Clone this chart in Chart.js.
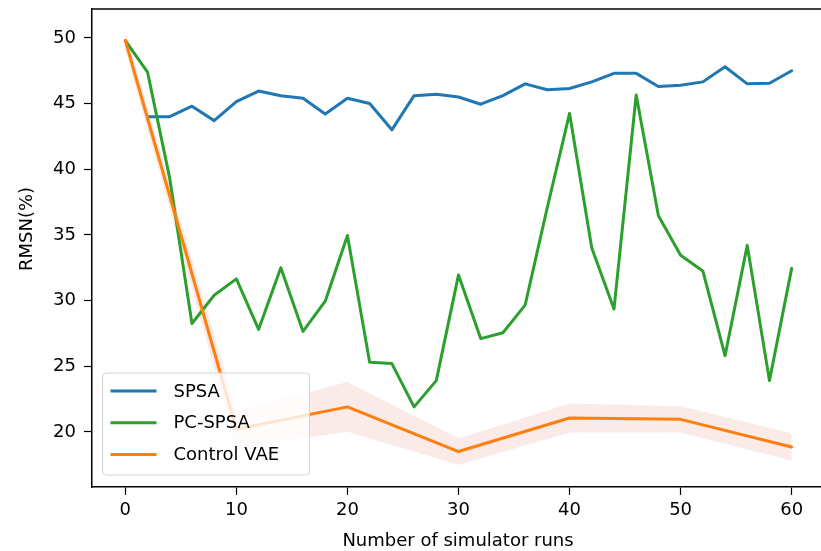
<!DOCTYPE html>
<html>
<head>
<meta charset="utf-8">
<script src="https://cdn.jsdelivr.net/npm/chart.js@4/dist/chart.umd.min.js"></script>
<style>
    html, body {
        margin: 0;
        padding: 0;
        background: #fff;
        overflow: hidden;
    }
    canvas {
        display: block;
    }
</style>
</head>
<body>
<canvas id="rmsnChart" width="830" height="551"></canvas>
<script>
    /*
    |--------------------------------------------------------------------------
    | Data
    |--------------------------------------------------------------------------
    */

    const spsaRuns = [2, 4, 6, 8, 10, 12, 14, 16, 18, 20, 22, 24, 26, 28, 30,
        32, 34, 36, 38, 40, 42, 44, 46, 48, 50, 52, 54, 56, 58, 60];
    const spsaRmsn = [44.0, 44.0, 44.8, 43.7, 45.15, 45.95, 45.6, 45.4, 44.2, 45.4,
        45.0, 43.0, 45.6, 45.7, 45.5, 44.95, 45.6, 46.5, 46.05, 46.15,
        46.65, 47.3, 47.3, 46.3, 46.4, 46.65, 47.8, 46.5, 46.55, 47.5];

    const pcRuns = [0, 2, 4, 6, 8, 10, 12, 14, 16, 18, 20, 22, 24, 26, 28, 30,
        32, 34, 36, 38, 40, 42, 44, 46, 48, 50, 52, 54, 56, 58, 60];
    const pcRmsn = [49.8, 47.4, 39.3, 28.25, 30.4, 31.65, 27.8, 32.5, 27.65, 29.95,
        34.95, 25.3, 25.2, 21.9, 23.9, 31.95, 27.1, 27.55, 29.65, 37.1,
        44.25, 34.0, 29.35, 45.65, 36.45, 33.45, 32.25, 25.8, 34.2, 23.9, 32.45];

    const vaeRuns = [0, 10, 20, 30, 40, 50, 60];
    const vaeRmsn = [49.8, 20.2, 21.9, 18.5, 21.05, 20.95, 18.85];
    const vaeStd = [0.7, 1.4, 1.9, 1.0, 1.1, 1.0, 1.05];

    const xTickValues = [0, 10, 20, 30, 40, 50, 60];
    const yTickValues = [20, 25, 30, 35, 40, 45, 50];

    const COLORS = {
        blue: "#1f77b4",
        green: "#2ca02c",
        orange: "#ff7f0e",
        band: "rgba(230, 150, 140, 0.2)",
    };

    const FONT = "DejaVu Sans";

    const toPoints = (xs, ys) => xs.map((x, i) => ({ x: x, y: ys[i] }));

    const noPadding = (scale) => {
        scale.paddingTop = 0;
        scale.paddingBottom = 0;
        scale.paddingLeft = 0;
        scale.paddingRight = 0;
    };

    /*
    |--------------------------------------------------------------------------
    | Plugins: top spine, axis titles, legend box
    |--------------------------------------------------------------------------
    */

    const framePlugin = {
        id: "frame",
        afterDatasetsDraw(chart) {
            const { ctx, chartArea } = chart;
            ctx.save();
            ctx.strokeStyle = "#000";
            ctx.lineWidth = 1.5;
            ctx.beginPath();
            ctx.moveTo(chartArea.left, chartArea.top);
            ctx.lineTo(chartArea.right, chartArea.top);
            ctx.stroke();

            // axis titles
            ctx.fillStyle = "#000";
            ctx.font = "18px '" + FONT + "'";
            ctx.textAlign = "center";
            ctx.textBaseline = "middle";
            ctx.fillText("Number of simulator runs", 458, 541);

            ctx.translate(27, 229);
            ctx.rotate(-Math.PI / 2);
            ctx.fillText("RMSN(%)", 0, 0);
            ctx.restore();
        },
    };

    const legendPlugin = {
        id: "boxLegend",
        afterDatasetsDraw(chart) {
            const { ctx, chartArea } = chart;
            const items = [
                { label: "SPSA", color: COLORS.blue },
                { label: "PC-SPSA", color: COLORS.green },
                { label: "Control VAE", color: COLORS.orange },
            ];

            const x = chartArea.left + 10.5;
            const y = chartArea.bottom - 114;
            const w = 207;
            const h = 102;

            ctx.save();
            ctx.beginPath();
            ctx.roundRect(x, y, w, h, 4);
            ctx.fillStyle = "rgba(255, 255, 255, 0.8)";
            ctx.fill();
            ctx.strokeStyle = "#d4d4d4";
            ctx.lineWidth = 1;
            ctx.stroke();

            ctx.font = "18px '" + FONT + "'";
            ctx.textBaseline = "middle";
            ctx.textAlign = "left";

            items.forEach((item, i) => {
                const rowY = y + 18 + i * 31.8;
                ctx.strokeStyle = item.color;
                ctx.lineWidth = 3;
                ctx.beginPath();
                ctx.moveTo(x + 8, rowY);
                ctx.lineTo(x + 54, rowY);
                ctx.stroke();

                ctx.fillStyle = "#000";
                ctx.fillText(item.label, x + 71, rowY + 1);
            });
            ctx.restore();
        },
    };

    /*
    |--------------------------------------------------------------------------
    | Chart
    |--------------------------------------------------------------------------
    */

    const ctx = document.getElementById("rmsnChart");

    new Chart(ctx, {
        type: "line",

        data: {
            datasets: [
                {
                    label: "SPSA",
                    data: toPoints(spsaRuns, spsaRmsn),
                    borderColor: COLORS.blue,
                    borderWidth: 3,
                    order: 3,
                },

                {
                    label: "PC-SPSA",
                    data: toPoints(pcRuns, pcRmsn),
                    borderColor: COLORS.green,
                    borderWidth: 3,
                    order: 2,
                },

                {
                    label: "Control VAE",
                    data: toPoints(vaeRuns, vaeRmsn),
                    borderColor: COLORS.orange,
                    borderWidth: 3,
                    order: 1,
                },

                {
                    label: "upper",
                    data: toPoints(vaeRuns, vaeRmsn.map((v, i) => v + vaeStd[i])),
                    borderWidth: 0,
                    borderColor: "rgba(0,0,0,0)",
                    backgroundColor: COLORS.band,
                    fill: "+1",
                    order: 5,
                },

                {
                    label: "lower",
                    data: toPoints(vaeRuns, vaeRmsn.map((v, i) => v - vaeStd[i])),
                    borderWidth: 0,
                    borderColor: "rgba(0,0,0,0)",
                    fill: false,
                    order: 6,
                },
            ],
        },

        options: {
            responsive: false,
            animation: false,

            elements: {
                point: { radius: 0 },
                line: { tension: 0, borderCapStyle: "round", borderJoinStyle: "round" },
            },

            layout: {
                padding: { top: 9, right: 5, left: 0, bottom: 0 },
            },

            plugins: {
                legend: { display: false },
                tooltip: { enabled: false },
            },

            scales: {
                x: {
                    type: "linear",
                    min: -3,
                    max: 63,

                    afterBuildTicks: (scale) => {
                        scale.ticks = xTickValues.map((v) => ({ value: v }));
                    },
                    afterFit: (scale) => {
                        scale.height = 64;
                        noPadding(scale);
                    },

                    grid: {
                        drawOnChartArea: false,
                        tickLength: 8,
                        tickWidth: 1.2,
                        tickColor: "#000",
                    },
                    border: { color: "#000", width: 1.5 },

                    ticks: {
                        padding: 5,
                        color: "#000",
                        maxRotation: 0,
                        font: { family: FONT, size: 18 },
                    },
                },

                y: {
                    min: 15.8,
                    max: 52.2,

                    afterBuildTicks: (scale) => {
                        scale.ticks = yTickValues.map((v) => ({ value: v }));
                    },
                    afterFit: (scale) => {
                        scale.width = 92;
                        noPadding(scale);
                    },

                    grid: {
                        drawOnChartArea: false,
                        tickLength: 8,
                        tickWidth: 1.2,
                        tickColor: "#000",
                    },
                    border: { color: "#000", width: 1.5 },

                    ticks: {
                        padding: 8,
                        color: "#000",
                        font: { family: FONT, size: 18 },
                    },
                },
            },
        },

        plugins: [framePlugin, legendPlugin],
    });
</script>
</body>
</html>
